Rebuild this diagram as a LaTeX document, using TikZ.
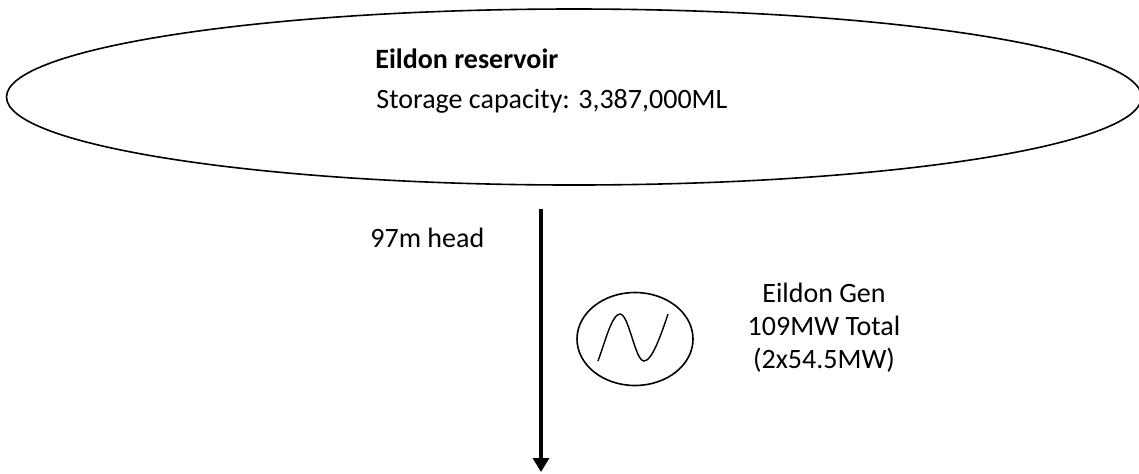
\documentclass[tikz,border=0pt]{standalone}
\usepackage{fontspec}
\setmainfont{Carlito}
\usetikzlibrary{shapes.geometric,arrows.meta}
\newlength{\pxu}
\setlength{\pxu}{0.5pt}
\tikzset{
  reservoir/.style={draw,ellipse,line width=0.8pt,minimum width=1135\pxu,minimum height=176\pxu,inner sep=0pt},
  gen/.style={draw,ellipse,line width=0.8pt,minimum width=116\pxu,minimum height=93\pxu,inner sep=0pt},
  label/.style={font=\fontsize{28\pxu}{33\pxu}\selectfont,inner sep=0pt}
}
\begin{document}
\begin{tikzpicture}[x=0.5pt,y=-0.5pt]
  \useasboundingbox (0,0) rectangle (1139,473);
  % reservoir
  \node[reservoir] (res) at (574,97) {};
  \node[label,anchor=base west] (title) at (375,68) {\textbf{Eildon reservoir}};
  \node[label,anchor=base west] (storage) at (376,108) {Storage capacity: 3,387,000ML};
  % head
  \coordinate (top) at (541,209);
  \coordinate (bottom) at (541,472);
  \draw[line width=1.6pt,-{Stealth[length=7pt,width=8pt,inset=0pt]}] (top) -- (bottom);
  \node[label,anchor=base west] (head) at (370,247) {97m head};
  % generator
  \node[gen] (genset) at (635,339) {};
  \draw[line width=0.7pt] (598,361) .. controls (605,342) and (612,314) .. (620,314) .. controls (629,314) and (635,361) .. (644,361) .. controls (652,361) and (661,335) .. (668,314);
  \node[label,align=center] (gentext) at (824,328) {Eildon Gen\\109MW Total\\(2x54.5MW)};
\end{tikzpicture}
\end{document}
